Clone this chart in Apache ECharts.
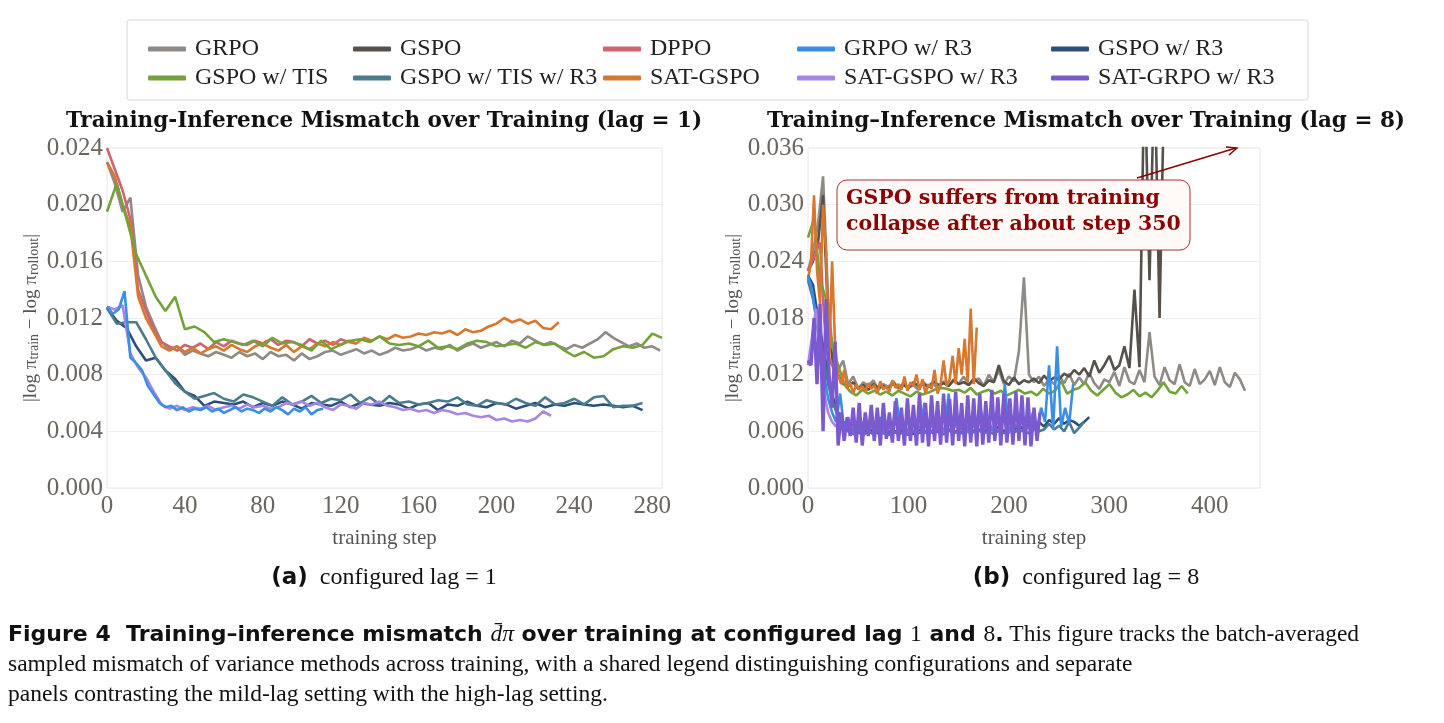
<!DOCTYPE html>
<html><head><meta charset="utf-8">
<script src="https://cdn.jsdelivr.net/npm/echarts@6/dist/echarts.min.js"></script>
<style>html,body{margin:0;background:#fff}#c{width:1444px;height:723px}</style></head>
<body><div id="c"></div>
<script>
// ---- Data (lag = 1) ----
const GRPO_L1_STEP=4, GRPO_L1=[0.0230,0.0215,0.0195,0.0205,0.0150,0.0128,0.0115,0.0103,0.0098,0.0100,0.0094,0.0097,0.0095,0.0093,0.0096,0.0094,0.0092,0.0096,0.0093,0.0095,0.0091,0.0096,0.0093,0.0094,0.0090,0.0095,0.0091,0.0093,0.0096,0.0097,0.0094,0.0096,0.0098,0.0095,0.0097,0.0094,0.0096,0.0099,0.0097,0.0098,0.0100,0.0097,0.0099,0.0098,0.0101,0.0097,0.0100,0.0102,0.0099,0.0101,0.0103,0.0100,0.0104,0.0102,0.0107,0.0104,0.0101,0.0103,0.0100,0.0098,0.0101,0.0099,0.0102,0.0105,0.0110,0.0106,0.0103,0.0100,0.0102,0.0099,0.0100,0.0097];
const DPPO_L1_STEP=4, DPPO_L1=[0.0240,0.0225,0.0210,0.0190,0.0140,0.0125,0.0112,0.0103,0.0100,0.0097,0.0101,0.0099,0.0102,0.0098,0.0103,0.0100,0.0104,0.0102,0.0101,0.0104,0.0102,0.0105,0.0101,0.0104,0.0103,0.0100,0.0105,0.0102,0.0104,0.0101,0.0105,0.0103,0.0102];
const SATGSPO_L1_STEP=4, SATGSPO_L1=[0.0230,0.0220,0.0200,0.0185,0.0135,0.0120,0.0110,0.0100,0.0097,0.0100,0.0096,0.0099,0.0095,0.0098,0.0100,0.0097,0.0101,0.0098,0.0096,0.0100,0.0102,0.0099,0.0097,0.0101,0.0096,0.0100,0.0098,0.0102,0.0100,0.0103,0.0101,0.0104,0.0102,0.0106,0.0104,0.0107,0.0105,0.0108,0.0106,0.0107,0.0109,0.0108,0.0110,0.0109,0.0111,0.0108,0.0112,0.0110,0.0111,0.0114,0.0116,0.0120,0.0117,0.0119,0.0116,0.0118,0.0113,0.0112,0.0117];
const GSPOTIS_L1_STEP=5, GSPOTIS_L1=[0.0195,0.0215,0.0190,0.0165,0.0150,0.0135,0.0125,0.0135,0.0112,0.0114,0.0110,0.0103,0.0105,0.0103,0.0101,0.0104,0.0100,0.0106,0.0102,0.0103,0.0101,0.0097,0.0104,0.0098,0.0101,0.0104,0.0105,0.0103,0.0107,0.0102,0.0101,0.0102,0.0100,0.0104,0.0099,0.0100,0.0098,0.0102,0.0104,0.0103,0.0100,0.0101,0.0102,0.0099,0.0103,0.0101,0.0102,0.0097,0.0093,0.0096,0.0092,0.0093,0.0098,0.0100,0.0099,0.0101,0.0109,0.0106];
const GRPOR3_L1_STEP=3, GRPOR3_L1=[0.0128,0.0123,0.0126,0.0139,0.0092,0.0088,0.0083,0.0072,0.0066,0.0060,0.0057,0.0058,0.0055,0.0057,0.0054,0.0056,0.0055,0.0057,0.0054,0.0056,0.0053,0.0055,0.0057,0.0054,0.0056,0.0055,0.0053,0.0056,0.0054,0.0057,0.0055,0.0052,0.0056,0.0054,0.0057,0.0052,0.0055,0.0056];
const SATGSPOR3_L1_STEP=4, SATGSPOR3_L1=[0.0128,0.0126,0.0129,0.0095,0.0085,0.0078,0.0068,0.0059,0.0056,0.0058,0.0055,0.0057,0.0056,0.0058,0.0055,0.0057,0.0058,0.0056,0.0059,0.0057,0.0058,0.0056,0.0057,0.0060,0.0059,0.0061,0.0058,0.0060,0.0057,0.0055,0.0059,0.0058,0.0056,0.0060,0.0059,0.0061,0.0058,0.0057,0.0055,0.0056,0.0054,0.0055,0.0053,0.0055,0.0054,0.0052,0.0053,0.0051,0.0050,0.0051,0.0048,0.0049,0.0047,0.0048,0.0047,0.0049,0.0054,0.0051];
const GSPOR3_L1_STEP=5, GSPOR3_L1=[0.0127,0.0118,0.0113,0.0100,0.0090,0.0092,0.0083,0.0077,0.0068,0.0065,0.0058,0.0061,0.0060,0.0059,0.0061,0.0057,0.0060,0.0058,0.0061,0.0059,0.0056,0.0060,0.0059,0.0058,0.0061,0.0057,0.0060,0.0059,0.0058,0.0060,0.0059,0.0056,0.0059,0.0060,0.0055,0.0059,0.0058,0.0061,0.0058,0.0057,0.0060,0.0059,0.0056,0.0058,0.0060,0.0057,0.0059,0.0058,0.0060,0.0059,0.0058,0.0059,0.0058,0.0057,0.0058,0.0055];
const GSPOTISR3_L1_STEP=5, GSPOTISR3_L1=[0.0127,0.0116,0.0117,0.0117,0.0105,0.0092,0.0083,0.0074,0.0068,0.0063,0.0065,0.0067,0.0063,0.0061,0.0066,0.0064,0.0061,0.0058,0.0064,0.0059,0.0061,0.0065,0.0060,0.0063,0.0062,0.0066,0.0060,0.0064,0.0059,0.0065,0.0060,0.0061,0.0059,0.0060,0.0062,0.0061,0.0064,0.0059,0.0058,0.0062,0.0060,0.0059,0.0063,0.0060,0.0058,0.0064,0.0059,0.0060,0.0063,0.0059,0.0064,0.0065,0.0057,0.0058,0.0058,0.0060];
// ---- Data (lag = 8) ----
const GRPO_L8_STEP=5, GRPO_L8=[0.0230,0.0250,0.0280,0.0330,0.0200,0.0140,0.0125,0.0135,0.0110,0.0118,0.0105,0.0112,0.0108,0.0114,0.0104,0.0110,0.0107,0.0113,0.0105,0.0111,0.0106,0.0109,0.0104,0.0112,0.0107,0.0110,0.0105,0.0113,0.0108,0.0115,0.0110,0.0118,0.0109,0.0113,0.0116,0.0108,0.0120,0.0112,0.0125,0.0110,0.0118,0.0113,0.0145,0.0223,0.0120,0.0112,0.0118,0.0108,0.0115,0.0110,0.0119,0.0111,0.0121,0.0109,0.0117,0.0110,0.0122,0.0111,0.0105,0.0115,0.0112,0.0123,0.0108,0.0128,0.0113,0.0110,0.0125,0.0112,0.0165,0.0118,0.0109,0.0128,0.0114,0.0110,0.0131,0.0112,0.0108,0.0126,0.0110,0.0115,0.0124,0.0109,0.0128,0.0112,0.0107,0.0122,0.0115,0.0103];
const GSPO_L8_STEP=5, GSPO_L8=[0.0230,0.0240,0.0260,0.0310,0.0180,0.0130,0.0120,0.0110,0.0108,0.0112,0.0105,0.0109,0.0104,0.0110,0.0106,0.0108,0.0105,0.0111,0.0107,0.0109,0.0106,0.0112,0.0108,0.0110,0.0107,0.0113,0.0109,0.0111,0.0108,0.0114,0.0110,0.0112,0.0109,0.0116,0.0111,0.0108,0.0114,0.0112,0.0130,0.0113,0.0109,0.0117,0.0110,0.0114,0.0112,0.0116,0.0111,0.0119,0.0113,0.0117,0.0115,0.0121,0.0118,0.0125,0.0120,0.0127,0.0118,0.0135,0.0122,0.0130,0.0140,0.0125,0.0130,0.0150,0.0127,0.0210,0.0128,0.0450,0.0220,0.0450,0.0180,0.0450];
const DPPO_L8_STEP=4, DPPO_L8=[0.0230,0.0240,0.0250,0.0260,0.0180,0.0140,0.0130,0.0120];
const SATGSPO_L8_STEP=3, SATGSPO_L8=[0.0220,0.0240,0.0310,0.0230,0.0195,0.0300,0.0250,0.0130,0.0240,0.0150,0.0120,0.0110,0.0125,0.0105,0.0112,0.0100,0.0110,0.0104,0.0108,0.0102,0.0111,0.0105,0.0109,0.0100,0.0113,0.0104,0.0108,0.0102,0.0114,0.0106,0.0110,0.0104,0.0118,0.0103,0.0112,0.0108,0.0120,0.0104,0.0115,0.0100,0.0110,0.0105,0.0125,0.0100,0.0110,0.0135,0.0108,0.0115,0.0140,0.0110,0.0148,0.0120,0.0158,0.0112,0.0190,0.0110,0.0170];
const GSPOTIS_L8_STEP=6, GSPOTIS_L8=[0.0265,0.0285,0.0220,0.0200,0.0150,0.0130,0.0110,0.0102,0.0098,0.0104,0.0100,0.0103,0.0099,0.0102,0.0098,0.0103,0.0100,0.0097,0.0102,0.0099,0.0101,0.0104,0.0106,0.0105,0.0103,0.0104,0.0101,0.0106,0.0099,0.0102,0.0104,0.0100,0.0103,0.0098,0.0101,0.0104,0.0100,0.0102,0.0098,0.0105,0.0100,0.0103,0.0113,0.0100,0.0104,0.0106,0.0112,0.0103,0.0098,0.0104,0.0110,0.0101,0.0096,0.0099,0.0104,0.0097,0.0101,0.0096,0.0103,0.0112,0.0102,0.0100,0.0108,0.0100];
const GRPOR3_L8_STEP=4, GRPOR3_L8=[0.0225,0.0210,0.0180,0.0150,0.0120,0.0095,0.0080,0.0070,0.0100,0.0062,0.0075,0.0058,0.0070,0.0060,0.0072,0.0058,0.0068,0.0062,0.0075,0.0058,0.0070,0.0060,0.0095,0.0062,0.0068,0.0058,0.0072,0.0060,0.0065,0.0090,0.0058,0.0072,0.0062,0.0068,0.0058,0.0100,0.0060,0.0070,0.0062,0.0072,0.0058,0.0068,0.0060,0.0082,0.0062,0.0070,0.0060,0.0075,0.0062,0.0110,0.0058,0.0068,0.0065,0.0072,0.0062,0.0065,0.0080,0.0060,0.0085,0.0070,0.0130,0.0062,0.0150,0.0065,0.0085,0.0068,0.0110];
const SATGSPOR3_L8_STEP=4, SATGSPOR3_L8=[0.0130,0.0160,0.0190,0.0140,0.0100,0.0080,0.0070,0.0065];
const SATGRPOR3_L8_STEP=3, SATGRPOR3_L8=[0.0135,0.0130,0.0180,0.0110,0.0195,0.0060,0.0200,0.0120,0.0085,0.0155,0.0045,0.0080,0.0050,0.0075,0.0055,0.0085,0.0048,0.0090,0.0045,0.0080,0.0055,0.0088,0.0050,0.0085,0.0045,0.0090,0.0052,0.0080,0.0048,0.0092,0.0050,0.0085,0.0045,0.0095,0.0050,0.0088,0.0045,0.0100,0.0048,0.0090,0.0044,0.0098,0.0050,0.0092,0.0046,0.0100,0.0048,0.0094,0.0045,0.0102,0.0050,0.0090,0.0044,0.0098,0.0048,0.0095,0.0044,0.0100,0.0046,0.0092,0.0048,0.0104,0.0050,0.0096,0.0045,0.0100,0.0048,0.0095,0.0046,0.0102,0.0050,0.0098,0.0045,0.0096,0.0044,0.0085,0.0050,0.0080];
const GSPOR3_L8_STEP=5, GSPOR3_L8=[0.0225,0.0215,0.0180,0.0150,0.0120,0.0095,0.0080,0.0070,0.0066,0.0060,0.0062,0.0058,0.0063,0.0060,0.0058,0.0062,0.0059,0.0061,0.0058,0.0063,0.0060,0.0057,0.0062,0.0059,0.0061,0.0058,0.0063,0.0060,0.0062,0.0059,0.0061,0.0058,0.0064,0.0060,0.0062,0.0059,0.0063,0.0061,0.0065,0.0060,0.0063,0.0061,0.0066,0.0062,0.0068,0.0063,0.0070,0.0065,0.0072,0.0068,0.0074,0.0068,0.0072,0.0070,0.0066,0.0070,0.0075];
const GSPOTISR3_L8_STEP=5, GSPOTISR3_L8=[0.0220,0.0200,0.0170,0.0140,0.0110,0.0090,0.0075,0.0065,0.0060,0.0057,0.0059,0.0056,0.0060,0.0057,0.0061,0.0058,0.0056,0.0060,0.0057,0.0059,0.0056,0.0061,0.0058,0.0060,0.0057,0.0062,0.0059,0.0057,0.0061,0.0058,0.0060,0.0057,0.0062,0.0059,0.0061,0.0058,0.0060,0.0057,0.0061,0.0058,0.0062,0.0059,0.0061,0.0060,0.0058,0.0063,0.0060,0.0062,0.0068,0.0062,0.0066,0.0060,0.0070,0.0058,0.0064,0.0070];
const LEFT_TICKS_INTERVAL=0.004, RIGHT_TICKS_INTERVAL=0.006;

const COLORS={'GRPO':'#8f8a85','GSPO':'#57514c','DPPO':'#d0636f','GRPO w/ R3':'#3a8ee6','GSPO w/ R3':'#2b4f7a','GSPO w/ TIS':'#74a23a','GSPO w/ TIS w/ R3':'#4b7c8e','SAT-GSPO':'#d8782e','SAT-GSPO w/ R3':'#a886e6','SAT-GRPO w/ R3':'#7b5ad0'};
const pts=(arr,st)=>arr.map((v,i)=>[i*st,v]);
const ser=(name,arr,st,g)=>({name,type:'line',xAxisIndex:g,yAxisIndex:g,data:pts(arr,st),showSymbol:false,symbol:'none',
  lineStyle:{width:name==='SAT-GRPO w/ R3'?3.4:2.6,color:COLORS[name]},itemStyle:{color:COLORS[name]},z:name==='SAT-GRPO w/ R3'?5:3,clip:true});
const series=[
 ser('GRPO',GRPO_L1,GRPO_L1_STEP,0), ser('DPPO',DPPO_L1,DPPO_L1_STEP,0), ser('SAT-GSPO',SATGSPO_L1,SATGSPO_L1_STEP,0),
 ser('GSPO w/ TIS',GSPOTIS_L1,GSPOTIS_L1_STEP,0), ser('GSPO w/ R3',GSPOR3_L1,GSPOR3_L1_STEP,0), ser('GSPO w/ TIS w/ R3',GSPOTISR3_L1,GSPOTISR3_L1_STEP,0),
 ser('SAT-GSPO w/ R3',SATGSPOR3_L1,SATGSPOR3_L1_STEP,0), ser('GRPO w/ R3',GRPOR3_L1,GRPOR3_L1_STEP,0),
 ser('GRPO',GRPO_L8,GRPO_L8_STEP,1), ser('GSPO',GSPO_L8,GSPO_L8_STEP,1), ser('DPPO',DPPO_L8,DPPO_L8_STEP,1),
 ser('GSPO w/ TIS',GSPOTIS_L8,GSPOTIS_L8_STEP,1), ser('SAT-GSPO',SATGSPO_L8,SATGSPO_L8_STEP,1),
 ser('GSPO w/ R3',GSPOR3_L8,GSPOR3_L8_STEP,1), ser('GSPO w/ TIS w/ R3',GSPOTISR3_L8,GSPOTISR3_L8_STEP,1),
 ser('GRPO w/ R3',GRPOR3_L8,GRPOR3_L8_STEP,1), ser('SAT-GSPO w/ R3',SATGSPOR3_L8,SATGSPOR3_L8_STEP,1), ser('SAT-GRPO w/ R3',SATGRPOR3_L8,SATGRPOR3_L8_STEP,1)
];
const legPos=[[143,32],[348,32],[598,32],[792,32],[1046,32],[143,61],[348,61],[598,61],[792,61],[1046,61]];
const legendOrder=['GRPO','GSPO','DPPO','GRPO w/ R3','GSPO w/ R3','GSPO w/ TIS','GSPO w/ TIS w/ R3','SAT-GSPO','SAT-GSPO w/ R3','SAT-GRPO w/ R3'];
const legends=legendOrder.map((n,i)=>({data:[{name:n,icon:'roundRect'}],left:legPos[i][0],top:legPos[i][1],itemWidth:38,itemHeight:5,itemGap:0,
  textStyle:{fontFamily:'Liberation Serif',fontSize:24,color:'#222',padding:[0,0,0,4]},selectedMode:false}));
const F='Liberation Serif';
const axLab={fontFamily:F,fontSize:25,color:'#6b6560'};
const yName={name:'{a||log π}{s|train}{a| − log π}{s|rollout}{a||}',nameLocation:'middle',nameRotate:90,
  nameTextStyle:{rich:{a:{fontFamily:F,fontSize:19,color:'#555'},s:{fontFamily:F,fontSize:14,color:'#555',verticalAlign:'bottom'}}}};
const opt={animation:false,legend:legends,
 grid:[{left:107,top:148,width:555,height:340,show:true,borderColor:'#e6e6e6',borderWidth:1},
       {left:808,top:148,width:452,height:340,show:true,borderColor:'#e6e6e6',borderWidth:1}],
 xAxis:[0,1].map(g=>({gridIndex:g,type:'value',min:0,max:g?450:285,interval:g?100:40,name:'training step',nameLocation:'middle',nameGap:40,
   nameTextStyle:{fontFamily:F,fontSize:21,color:'#555'},axisLine:{show:false},axisTick:{show:false},splitLine:{show:false},
   axisLabel:{...axLab,margin:6,showMaxLabel:false,formatter:v=>v}})),
 yAxis:[0,1].map(g=>({gridIndex:g,type:'value',min:0,max:g?0.036:0.024,interval:g?RIGHT_TICKS_INTERVAL:LEFT_TICKS_INTERVAL,...yName,nameGap:g?65:66,
   axisLine:{show:false},axisTick:{show:false},splitLine:{lineStyle:{color:'#efefef'}},axisLabel:{...axLab,margin:4,formatter:v=>v.toFixed(3)}})),
 series,
 graphic:[
  {type:'rect',shape:{x:127,y:20,width:1181,height:80,r:3},style:{fill:'#fff',stroke:'#d8d8d8',lineWidth:1},z:-1},
  {type:'text',x:384,y:121,style:{text:'Training-Inference Mismatch over Training (lag = 1)',font:'bold 21.5px "DejaVu Serif"',fill:'#111',textAlign:'center',textVerticalAlign:'middle'}},
  {type:'text',x:1086,y:121,style:{text:'Training–Inference Mismatch over Training (lag = 8)',font:'bold 21.5px "DejaVu Serif"',fill:'#111',textAlign:'center',textVerticalAlign:'middle'}},
  {type:'rect',shape:{x:837,y:180,width:353,height:70,r:10},style:{fill:'#fffaf8',stroke:'#a33',lineWidth:1},z:20},
  {type:'text',x:846,y:186,style:{text:'GSPO suffers from training\ncollapse after about step 350',font:'bold 20.5px "DejaVu Serif"',fill:'#8b0000',lineHeight:26},z:21},
  {type:'line',shape:{x1:1137,y1:178,x2:1236,y2:148},style:{stroke:'#8b0000',lineWidth:1.5},z:21},
  {type:'polyline',shape:{points:[[1226,147],[1237,148],[1229,155]]},style:{stroke:'#8b0000',lineWidth:1.5,fill:null},z:21},
  {type:'text',x:384,y:578,style:{rich:{b:{font:'bold 23px "DejaVu Sans"',fill:'#111'},n:{font:'24px "Liberation Serif"',fill:'#111'}},text:'{b|(a)}{n|  configured lag = 1}',textAlign:'center',textVerticalAlign:'middle'}},
  {type:'text',x:1086,y:578,style:{rich:{b:{font:'bold 23px "DejaVu Sans"',fill:'#111'},n:{font:'24px "Liberation Serif"',fill:'#111'}},text:'{b|(b)}{n|  configured lag = 8}',textAlign:'center',textVerticalAlign:'middle'}},
  {type:'text',x:8,y:620,style:{rich:{b:{font:'bold 22px "DejaVu Sans"',fill:'#111'},n:{font:'23.5px "Liberation Serif"',fill:'#111'},i:{font:'italic 23.5px "Liberation Serif"',fill:'#111'}},
    lineHeight:30,text:'{b|Figure 4  Training–inference mismatch }{i|d̄}{i|π}{b| over training at configured lag }{n|1}{b| and }{n|8}{b|.}{n| This figure tracks the batch-averaged}\n{n|sampled mismatch of variance methods across training, with a shared legend distinguishing configurations and separate}\n{n|panels contrasting the mild-lag setting with the high-lag setting.}'}}
 ]};
echarts.init(document.getElementById('c')).setOption(opt);
</script></body></html>
